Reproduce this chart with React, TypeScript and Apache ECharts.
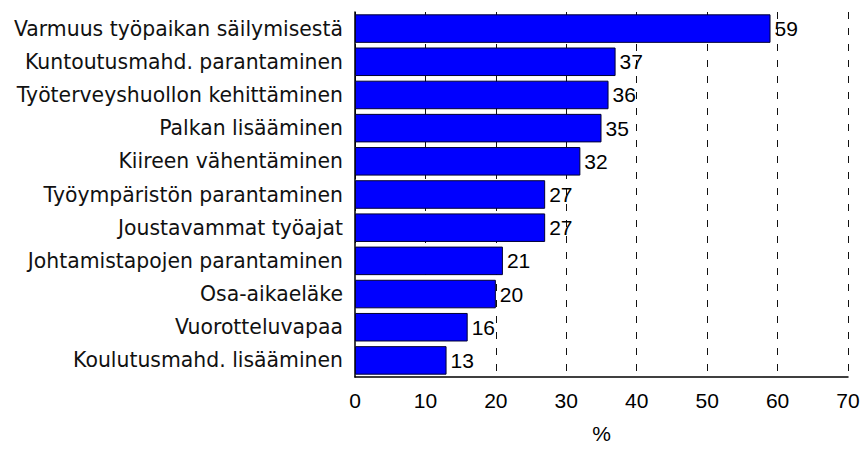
import React, { useEffect, useRef } from "react";
import * as echarts from "echarts";

const categories = [
  "Varmuus työpaikan säilymisestä",
  "Kuntoutusmahd. parantaminen",
  "Työterveyshuollon kehittäminen",
  "Palkan lisääminen",
  "Kiireen vähentäminen",
  "Työympäristön parantaminen",
  "Joustavammat työajat",
  "Johtamistapojen parantaminen",
  "Osa-aikaeläke",
  "Vuorotteluvapaa",
  "Koulutusmahd. lisääminen",
];
const values = [59, 37, 36, 35, 32, 27, 27, 21, 20, 16, 13];
const axisName = "%";

const NUM_FONT = "'Liberation Sans', Arial, sans-serif";
const CAT_FONT = "'DejaVu Sans', Verdana, sans-serif";

export default function App() {
  const ref = useRef<HTMLDivElement>(null);
  useEffect(() => {
    const chart = echarts.init(ref.current!, undefined, { renderer: "svg" });
    chart.setOption({
      animation: false,
      grid: { left: 355, right: 17, top: 12, bottom: 67, containLabel: false },
      xAxis: {
        type: "value",
        min: 0,
        max: 70,
        interval: 10,
        name: axisName,
        nameLocation: "middle",
        nameGap: 46,
        nameTextStyle: { fontFamily: NUM_FONT, fontSize: 21, color: "#000" },
        axisLine: { show: true, lineStyle: { color: "#000", width: 1.5 } },
        axisTick: { show: false },
        axisLabel: { fontFamily: NUM_FONT, fontSize: 21, color: "#000", margin: 13 },
        splitLine: { show: true, lineStyle: { color: "#111", type: [7, 9], width: 1 } },
      },
      yAxis: {
        type: "category",
        data: categories,
        inverse: true,
        axisLine: { show: true, lineStyle: { color: "#000", width: 1.5 } },
        axisTick: { show: false },
        axisLabel: { fontFamily: CAT_FONT, fontSize: 20.4, color: "#111", margin: 12 },
      },
      series: [
        {
          type: "bar",
          data: values,
          barCategoryGap: "14%",
          itemStyle: { color: "#0000FF", borderColor: "#000033", borderWidth: 1 },
          label: {
            show: true,
            position: "right",
            distance: 4,
            fontFamily: NUM_FONT,
            fontSize: 21,
            color: "#000",
          },
        },
      ],
    });
    return () => chart.dispose();
  }, []);
  return <div ref={ref} style={{ width: 865, height: 449, position: "absolute", left: 0, top: 0 }} />;
}
